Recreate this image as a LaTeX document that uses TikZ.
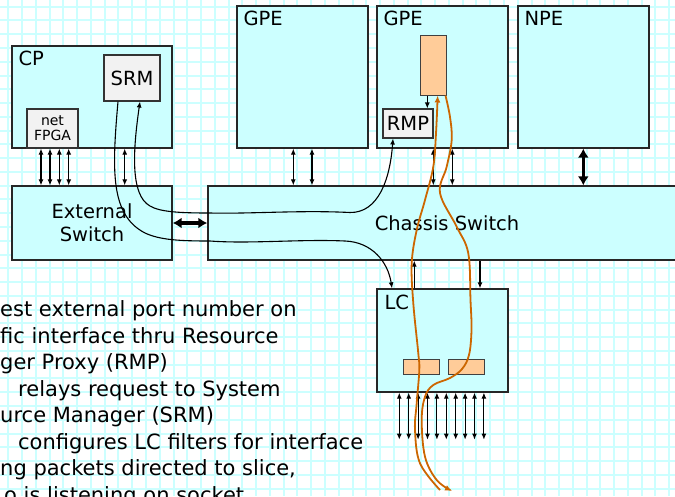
\documentclass[tikz,border=0pt]{standalone}
\usepackage{fontspec}
\setmainfont{DejaVu Sans}
\usetikzlibrary{arrows.meta, positioning}
\definecolor{boardcyan}{RGB}{204,255,255}
\definecolor{gridcyan}{RGB}{204,255,255}
\definecolor{procgray}{RGB}{242,242,242}
\definecolor{slicefill}{RGB}{255,204,153}
\definecolor{sliceline}{RGB}{204,102,0}

\begin{document}
\begin{tikzpicture}[x=1pt, y=-1pt,
      board/.style={
          draw=black!85,
          fill=boardcyan,
          line width=1.3pt,
          minimum width=131pt,
          minimum height=142pt,
          inner sep=0pt,
          font=\fontsize{19.5}{23}\selectfont,
          align=center
        },
      proc/.style={
          draw=black!80,
          fill=procgray,
          line width=1.1pt,
          inner sep=0pt,
          font=\fontsize{19.5}{23}\selectfont,
          align=center
        },
      slicebox/.style={
          draw=black!75,
          fill=slicefill,
          line width=1pt,
          inner sep=0pt
        },
      tag/.style={anchor=north west, inner sep=0pt, font=\fontsize{19.5}{23}\selectfont},
      note/.style={anchor=base west, inner sep=0pt, font=\fontsize{21}{26}\selectfont},
      link/.style={{Latex[length=6pt,width=5pt]}-{Latex[length=6pt,width=5pt]}, line width=1.1pt},
      uplink/.style={-{Latex[length=6pt,width=5pt]}, line width=1.1pt},
      bus/.style={{Latex[length=9pt,width=11pt]}-{Latex[length=9pt,width=11pt]}, line width=3.3pt},
      sig/.style={-{Latex[length=6pt,width=5pt]}, line width=1.1pt},
      slicepath/.style={-{Latex[length=7pt,width=6pt]}, draw=sliceline, line width=1.8pt},
      gridline/.style={gridcyan, line width=2pt}
    ]
    \useasboundingbox (0,0) rectangle (675,496);
    \clip (0,0) rectangle (675,496);

    % background grid
    \foreach \k [evaluate=\k as \gx using 8.3+13.77*\k] in {0,...,48}
      \draw[gridline] (\gx,0) -- (\gx,496);
    \foreach \k [evaluate=\k as \gy using 6.7+13.77*\k] in {0,...,35}
      \draw[gridline] (0,\gy) -- (675,\gy);

    % boards
    \node[board, minimum width=160pt, minimum height=102pt] (cp) at (92,97) {};
    \node[board, minimum width=160pt, minimum height=74pt] (extsw) at (92,223) {External\\Switch};
    \node[board, minimum width=478pt, minimum height=74pt] (chassis) at (447,223) {Chassis Switch};
    \node[board] (gpeA) at (302.5,77) {};
    \node[board] (gpeB) at (442.5,77) {};
    \node[board] (npe) at (583.5,77) {};
    \node[board, minimum height=103pt] (lc) at (442.5,340.5) {};

    \node[tag] (cptag) at ([xshift=7pt,yshift=-5pt]cp.north west) {CP};
    \node[tag] (gpeAtag) at ([xshift=7pt,yshift=-5.7pt]gpeA.north west) {GPE};
    \node[tag] (gpeBtag) at ([xshift=7pt,yshift=-5.7pt]gpeB.north west) {GPE};
    \node[tag] (npetag) at ([xshift=7pt,yshift=-5.7pt]npe.north west) {NPE};
    \node[tag] (lctag) at ([xshift=8pt,yshift=-6pt]lc.north west) {LC};

    % processes inside the boards
    \node[proc, minimum width=56pt, minimum height=46pt] (srm) at (132,78) {SRM};
    \node[proc, minimum width=51pt, minimum height=39pt, font=\fontsize{14}{15}\selectfont] (netfpga) at (52.5,128.5) {net\\FPGA};
    \node[proc, minimum width=50pt, minimum height=29pt] (rmp) at (408,123.5) {RMP};
    \node[slicebox, minimum width=26pt, minimum height=60pt] (slice) at (433,65) {};
    \node[slicebox, minimum width=36pt, minimum height=15pt] (filterA) at (421,366.5) {};
    \node[slicebox, minimum width=36pt, minimum height=15pt] (filterB) at (466.5,366.5) {};

    % board links
    \foreach \ax in {41,50,59.3,68.7}
      \draw[link] (\ax,0 |- netfpga.south) -- (\ax,0 |- extsw.north);
    \draw[link] (124.7,0 |- cp.south) -- (124.7,0 |- extsw.north);
    \foreach \ax in {293.3,312}
      \draw[link] (\ax,0 |- gpeA.south) -- (\ax,0 |- chassis.north);
    \foreach \ax in {433.3,452.3}
      \draw[link] (\ax,0 |- gpeB.south) -- (\ax,0 |- chassis.north);
    \draw[bus] (583.3,0 |- npe.south) -- (583.3,0 |- chassis.north);
    \draw[bus] (extsw.east) -- (chassis.west);
    \draw[uplink] (414.3,0 |- lc.north) -- (414.3,0 |- chassis.south);
    \draw[uplink] (480,0 |- chassis.south) -- (480,0 |- lc.north);
    \draw[uplink] (427.3,0 |- slice.south) -- (427.3,0 |- rmp.north);
    \foreach \k [evaluate=\k as \ax using 399.3+9.4*\k] in {0,...,9}
      \draw[link] (\ax,0 |- lc.south) -- ++(0,47);

    % control messages
    \draw[sig] ([xshift=-14pt]srm.south) .. controls (112,170) and (110,215) .. (145,233)
      .. controls (160,240) and (180,241) .. (210,241)
      .. controls (250,244) and (300,239) .. (345,241)
      .. controls (372,242) and (388,262) .. (392,0 |- lc.north);
    \draw[sig, {Latex[length=6pt,width=5pt]}-{Latex[length=6pt,width=5pt]}] ([xshift=8pt]srm.south)
      .. controls (133,150) and (130,195) .. (150,206)
      .. controls (160,212) and (180,213) .. (210,213)
      .. controls (250,214) and (300,210) .. (350,212.5)
      .. controls (378,213) and (390,180) .. ([xshift=-15pt]rmp.south);

    % slice traffic
    \coordinate (inA) at (440,490);
    \coordinate (outB) at (452,491);
    \draw[slicepath] plot[smooth, tension=0.6] coordinates {(inA) (420,463.3) (415,430) (416.7,403.3)
      (419.3,370) (418.3,353.3) (413.3,303.3) (411.7,263.3) (416.7,230) (425,200) (433.3,166.7)
      (436,133.3) ([xshift=4.7pt]slice.south)};
    \draw[slicepath] plot[smooth, tension=0.6] coordinates {([xshift=-1pt]slice.south east) (450,117)
      (451.7,140) (446.7,166.7) (440,193) (456.7,226.7) (468.3,253.3) (470.5,300) (471.5,330)
      (469,355) (462,369) (450,378) (433.3,385) (425,396.7) (421.7,420) (425,456.7) (436.7,480) (outB)};

    % steps
    \node[note] (step1) at (0,316.7) {est external port number on};
    \node[note] (step2) at (0,343.2) {fic interface thru Resource};
    \node[note] (step3) at (0,369.7) {ger Proxy (RMP)};
    \node[note] (step4) at (18,396.2) {relays request to System};
    \node[note] (step5) at (0,422.7) {urce Manager (SRM)};
    \node[note] (step6) at (18,449.2) {configures LC filters for interface};
    \node[note] (step7) at (0,475.7) {ng packets directed to slice,};
    \node[note] (step8) at (4,502.2) {o is listening on socket};
  \end{tikzpicture}
\end{document}
